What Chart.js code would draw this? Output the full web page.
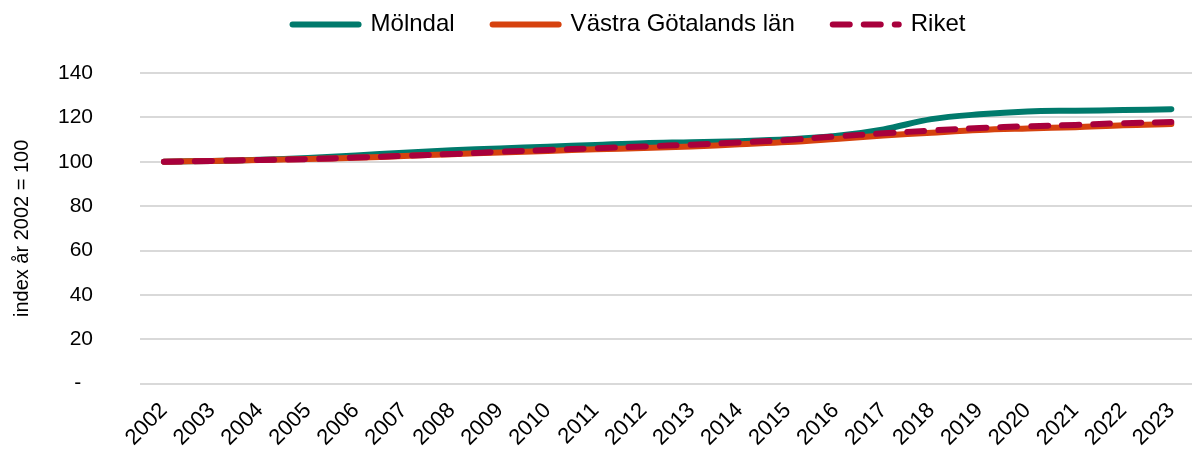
<!DOCTYPE html>
<html>
<head>
<meta charset="utf-8">
<script src="https://cdn.jsdelivr.net/npm/chart.js@4.4.0/dist/chart.umd.min.js"></script>
<style>
  html, body { margin: 0; padding: 0; background: #ffffff; overflow: hidden; }
  #wrap { position: relative; width: 1204px; height: 453px; }
</style>
</head>
<body>
<div id="wrap"><canvas id="c"></canvas></div>
<script>
const years = ['2002','2003','2004','2005','2006','2007','2008','2009','2010','2011','2012',
               '2013','2014','2015','2016','2017','2018','2019','2020','2021','2022','2023'];
const molndal = [100, 100.4, 100.9, 101.7, 102.8, 104.1, 105.2, 106.0, 106.8, 107.6, 108.4,
                 108.8, 109.3, 110.1, 111.6, 114.6, 119.2, 121.4, 122.7, 123.0, 123.3, 123.7];
const vastraGotaland = [100, 100.4, 100.8, 101.2, 101.8, 102.6, 103.4, 104.2, 104.9, 105.6, 106.2,
                        106.9, 107.9, 108.9, 110.3, 111.8, 113.1, 114.3, 115.0, 115.6, 116.5, 117.0];
const riket = [100, 100.4, 100.8, 101.2, 101.9, 102.7, 103.5, 104.5, 105.3, 106.1, 106.9,
               107.7, 108.7, 109.8, 111.4, 112.8, 114.1, 115.2, 116.0, 116.6, 117.4, 117.9];
const seriesNames = ['Mölndal', 'Västra Götalands län', 'Riket'];
const yTickValues = [0, 20, 40, 60, 80, 100, 120, 140];
const zeroLabel = '-';
const yAxisTitle = 'index år 2002 = 100';

const FONT = "'Liberation Sans', Arial, sans-serif";

const legendTweak = {
  id: 'legendTweak',
  afterLayout(chart) {
    const lg = chart.legend;
    if (!lg) return;
    lg.left += 27; lg.right += 27;
    lg.top -= 26.5; lg.bottom -= 26.5;
  }
};

new Chart(document.getElementById('c'), {
  type: 'line',
  data: {
    labels: years,
    datasets: [
      { label: seriesNames[0], data: molndal, borderColor: '#007A6C', backgroundColor: '#007A6C',
        borderWidth: 6, order: 3 },
      { label: seriesNames[1], data: vastraGotaland, borderColor: '#D6420E', backgroundColor: '#D6420E',
        borderWidth: 6, order: 2 },
      { label: seriesNames[2], data: riket, borderColor: '#A8003C', backgroundColor: '#A8003C',
        borderWidth: 6, borderDash: [17, 14], order: 1 }
    ]
  },
  options: {
    responsive: true,
    maintainAspectRatio: false,
    animation: false,
    layout: { padding: { top: 1, left: 0, right: 0, bottom: 0 } },
    elements: {
      point: { radius: 0, hoverRadius: 0 },
      line: { tension: 0.35, borderCapStyle: 'round', borderJoinStyle: 'round', fill: false }
    },
    plugins: {
      tooltip: { enabled: false },
      legend: {
        position: 'top',
        labels: {
          usePointStyle: true,
          pointStyle: 'line',
          pointStyleWidth: 66,
          padding: 38,
          color: '#000000',
          font: { family: FONT, size: 24 },
          sort: (a, b) => a.datasetIndex - b.datasetIndex,
          generateLabels(chart) {
            const items = Chart.defaults.plugins.legend.labels.generateLabels(chart);
            items.forEach(it => {
              const ds = chart.data.datasets[it.datasetIndex];
              it.strokeStyle = ds.borderColor;
              it.fillStyle = ds.borderColor;
              it.lineWidth = ds.borderWidth;
              it.lineDash = ds.borderDash || [];
              it.lineCap = 'round';
              it.pointStyle = 'line';
            });
            return items;
          }
        }
      }
    },
    scales: {
      x: {
        type: 'category',
        offset: true,
        grid: { display: false, drawTicks: false },
        border: { display: false },
        ticks: {
          autoSkip: false,
          minRotation: 45,
          maxRotation: 45,
          padding: 14,
          color: '#000000',
          font: { family: FONT, size: 22 }
        },
        afterFit(scale) { scale.height = 69.3; }
      },
      y: {
        min: 0,
        max: 140,
        afterBuildTicks(scale) { scale.ticks = yTickValues.map(v => ({ value: v })); },
        grid: { color: '#D9D9D9', lineWidth: 2, drawTicks: false },
        border: { display: false },
        ticks: {
          padding: 47,
          color: '#000000',
          font: { family: FONT, size: 21 },
          callback: (v) => (v === 0 ? zeroLabel + '  ' : String(v))
        },
        title: {
          display: true,
          text: yAxisTitle,
          color: '#000000',
          font: { family: FONT, size: 20 },
          padding: { top: 10, bottom: 0 }
        },
        afterFit(scale) { scale.width = 140; }
      }
    }
  },
  plugins: [legendTweak]
});
</script>
</body>
</html>
